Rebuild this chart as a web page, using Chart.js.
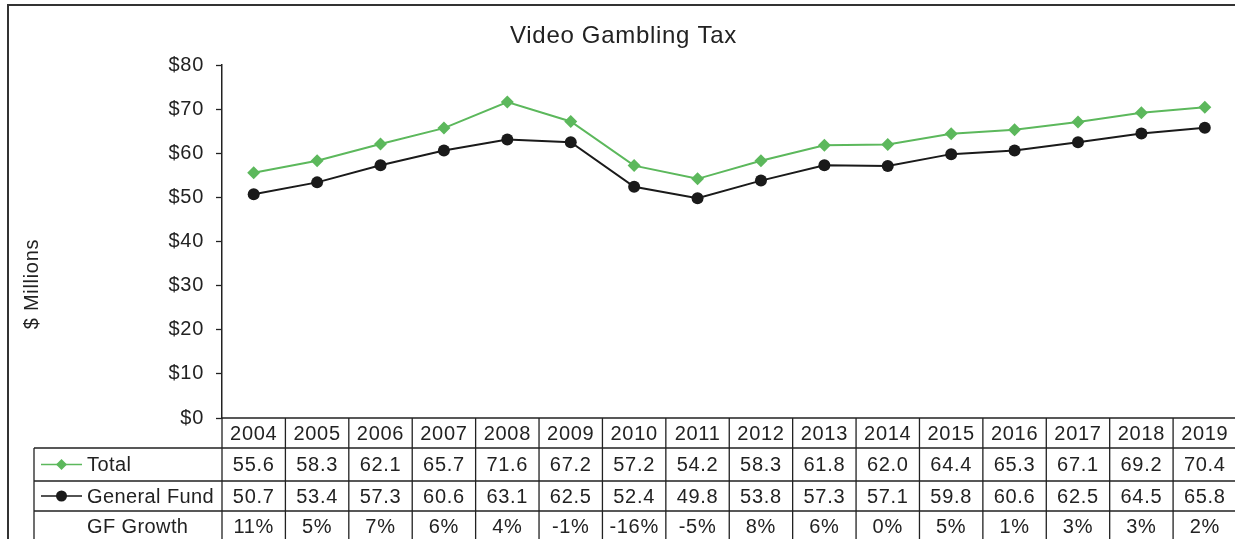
<!DOCTYPE html>
<html>
<head>
<meta charset="utf-8">
<script src="https://cdn.jsdelivr.net/npm/chart.js@4/dist/chart.umd.min.js"></script>
<style>
  html, body { margin: 0; padding: 0; background: #fff; overflow: hidden; }
  #chart { display: block; }
</style>
</head>
<body>
<canvas id="chart" width="1243" height="539"></canvas>
<script>
const years = ["2004", "2005", "2006", "2007", "2008", "2009", "2010", "2011",
               "2012", "2013", "2014", "2015", "2016", "2017", "2018", "2019"];
const total = [55.6, 58.3, 62.1, 65.7, 71.6, 67.2, 57.2, 54.2,
               58.3, 61.8, 62.0, 64.4, 65.3, 67.1, 69.2, 70.4];
const generalFund = [50.7, 53.4, 57.3, 60.6, 63.1, 62.5, 52.4, 49.8,
                     53.8, 57.3, 57.1, 59.8, 60.6, 62.5, 64.5, 65.8];
const gfGrowth = ["11%", "5%", "7%", "6%", "4%", "-1%", "-16%", "-5%",
                  "8%", "6%", "0%", "5%", "1%", "3%", "3%", "2%"];
const yMin = 0, yMax = 80, yStep = 10;

const FONT = "'Liberation Sans', Arial, sans-serif";
const INK = "#222";
const GREEN = "#5cb85c";
const BLACK = "#1a1a1a";
const SPACING = "0.7px";

// excel-ish wide text for everything the chart writes
const spacingPlugin = {
  id: "spacing",
  beforeDraw(chart) { chart.ctx.letterSpacing = SPACING; }
};

// data table under the plot + frame + axis title
const tablePlugin = {
  id: "dataTable",
  afterDraw(chart) {
    const ctx = chart.ctx;
    const x = chart.scales.x;
    const area = chart.chartArea;
    const half = (x.getPixelForValue(1) - x.getPixelForValue(0)) / 2;
    const rows = [area.bottom, area.bottom + 30, area.bottom + 63, area.bottom + 93, 560];
    const legLeft = 34;
    const right = x.getPixelForValue(years.length - 1) + half;

    ctx.save();
    ctx.letterSpacing = SPACING;
    // outer frame
    ctx.strokeStyle = "#333";
    ctx.lineWidth = 2;
    ctx.strokeRect(8, 5, 1400, 700);

    // grid of the table
    ctx.strokeStyle = INK;
    ctx.lineWidth = 1.3;
    ctx.beginPath();
    ctx.moveTo(area.left, rows[0]); ctx.lineTo(right, rows[0]);
    for (let r = 1; r <= 3; r++) {
      ctx.moveTo(legLeft, rows[r]); ctx.lineTo(right, rows[r]);
    }
    ctx.moveTo(legLeft, rows[1]); ctx.lineTo(legLeft, rows[4]);
    for (let i = 0; i <= years.length; i++) {
      const px = x.getPixelForValue(i) - half;
      ctx.moveTo(px, rows[0]); ctx.lineTo(px, rows[4]);
    }
    ctx.stroke();

    // cell text
    ctx.fillStyle = INK;
    ctx.font = "20px " + FONT;
    ctx.textAlign = "center";
    ctx.textBaseline = "middle";
    years.forEach((yr, i) => {
      const cx = x.getPixelForValue(i);
      ctx.fillText(yr, cx, (rows[0] + rows[1]) / 2 + 1);
      ctx.fillText(total[i].toFixed(1), cx, (rows[1] + rows[2]) / 2 + 1);
      ctx.fillText(generalFund[i].toFixed(1), cx, (rows[2] + rows[3]) / 2 + 1);
      ctx.fillText(gfGrowth[i], cx, (rows[3] + 539) / 2 + 2);
    });

    // legend keys
    ctx.letterSpacing = "0.4px";
    const keys = [
      { label: "Total", color: GREEN, shape: "rectRot", row: 1 },
      { label: "General Fund", color: BLACK, shape: "circle", row: 2 }
    ];
    keys.forEach(k => {
      const cy = (rows[k.row] + rows[k.row + 1]) / 2;
      ctx.strokeStyle = k.color;
      ctx.lineWidth = 1.5;
      ctx.beginPath();
      ctx.moveTo(41, cy); ctx.lineTo(82, cy);
      ctx.stroke();
      ctx.fillStyle = k.color;
      ctx.beginPath();
      if (k.shape === "circle") {
        ctx.arc(61.5, cy, 5.5, 0, Math.PI * 2);
      } else {
        ctx.moveTo(61.5, cy - 5.5); ctx.lineTo(67, cy);
        ctx.lineTo(61.5, cy + 5.5); ctx.lineTo(56, cy);
        ctx.closePath();
      }
      ctx.fill();
      ctx.fillStyle = INK;
      ctx.textAlign = "left";
      ctx.fillText(k.label, 87, cy + 1);
    });
    ctx.textAlign = "left";
    ctx.fillText("GF Growth", 87, (rows[3] + 539) / 2 + 2);

    // y axis title
    ctx.letterSpacing = SPACING;
    ctx.translate(32, 284);
    ctx.rotate(-Math.PI / 2);
    ctx.textAlign = "center";
    ctx.fillText("$ Millions", 0, 0);
    ctx.restore();
  }
};

new Chart(document.getElementById("chart"), {
  type: "line",
  data: {
    labels: years,
    datasets: [
      {
        label: "Total",
        data: total,
        borderColor: GREEN,
        backgroundColor: GREEN,
        borderWidth: 2,
        pointStyle: "rectRot",
        pointRadius: 6.5,
        pointBorderWidth: 0,
        tension: 0
      },
      {
        label: "General Fund",
        data: generalFund,
        borderColor: BLACK,
        backgroundColor: BLACK,
        borderWidth: 2,
        pointStyle: "circle",
        pointRadius: 6,
        pointBorderWidth: 0,
        tension: 0
      }
    ]
  },
  options: {
    responsive: false,
    animation: false,
    layout: { padding: { left: 4, right: 0, top: 0, bottom: 0 } },
    plugins: {
      legend: { display: false },
      tooltip: { enabled: false },
      title: {
        display: true,
        text: "Video Gambling Tax",
        color: INK,
        font: { family: FONT, size: 24, weight: "normal" },
        padding: { top: 22, bottom: 14.2 }
      }
    },
    scales: {
      x: {
        offset: true,
        grid: { display: false },
        border: { display: false },
        ticks: { display: false },
        afterFit(scale) { scale.height = 121; }
      },
      y: {
        min: yMin,
        max: yMax,
        ticks: {
          stepSize: yStep,
          color: INK,
          padding: 12,
          font: { family: FONT, size: 20 },
          callback: v => "$" + v
        },
        grid: {
          drawOnChartArea: false,
          drawTicks: true,
          tickLength: 6,
          tickColor: INK,
          tickWidth: 1.3
        },
        border: { display: true, color: INK, width: 1.5 },
        afterFit(scale) { scale.width = 218; }
      }
    }
  },
  plugins: [spacingPlugin, tablePlugin]
});
</script>
</body>
</html>
